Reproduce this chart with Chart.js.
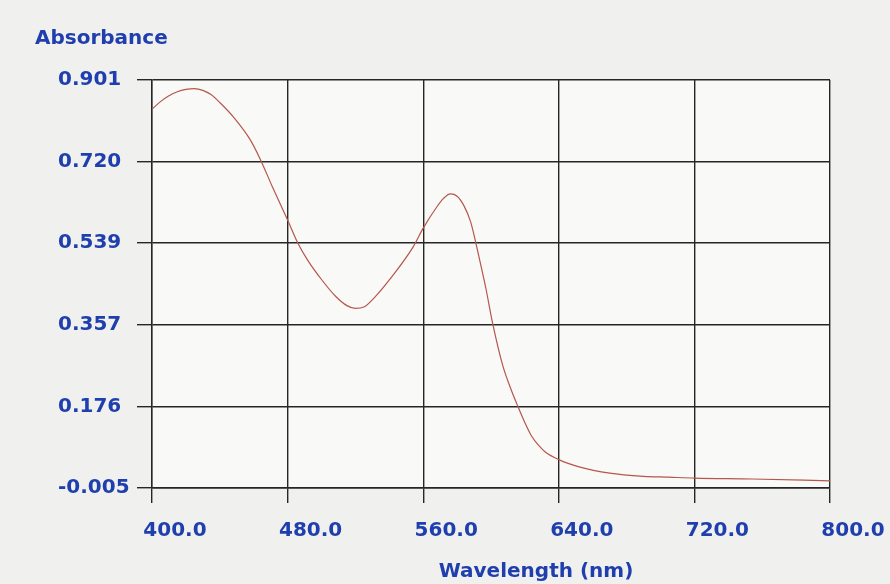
<!DOCTYPE html>
<html>
<head>
<meta charset="utf-8">
<script src="https://cdn.jsdelivr.net/npm/chart.js@4/dist/chart.umd.min.js"></script>
<style>
  html, body { margin: 0; padding: 0; background: #f0f0ee; }
  #wrap { width: 890px; height: 584px; }
</style>
</head>
<body>
<div id="wrap"><canvas id="spectrum" width="890" height="584"></canvas></div>
<script>
// Spectrum values
const wavelength = [400, 405, 410, 415, 420, 425, 430, 435, 440, 448, 458, 464, 471, 480, 486, 492, 500, 508, 515, 520,
    525, 532, 540, 554, 560, 568, 572, 576, 580, 584, 588, 591, 594, 597, 601, 607, 612, 616, 620, 624,
    628, 632, 640, 652, 670, 690, 705, 720, 754, 800];
const absorbance = [0.836, 0.853, 0.866, 0.875, 0.880, 0.882, 0.878, 0.868, 0.851, 0.819, 0.768, 0.724, 0.664, 0.590, 0.539, 0.500, 0.458, 0.422, 0.400, 0.394,
    0.397, 0.421, 0.457, 0.530, 0.572, 0.619, 0.638, 0.648, 0.643, 0.622, 0.586, 0.540, 0.490, 0.438, 0.360, 0.266, 0.212, 0.175, 0.140, 0.110,
    0.090, 0.075, 0.058, 0.042, 0.028, 0.021, 0.019, 0.017, 0.015, 0.011];

const xTicks = [400, 480, 560, 640, 720, 800];
const yTicks = [-0.005, 0.176, 0.357, 0.539, 0.720, 0.901];

const labelBlue = '#1f3fae';
const gridColor = '#262626';
const labelFont = { family: 'DejaVu Sans', size: 20, weight: 'bold' };

// paints the paper colour and the axis titles
const paperPlugin = {
    id: 'paper',
    beforeDraw(chart) {
        const { ctx, chartArea } = chart;
        ctx.save();
        ctx.fillStyle = '#f0f0ee';
        ctx.fillRect(0, 0, chart.width, chart.height);
        ctx.fillStyle = '#f9f9f8';
        ctx.fillRect(chartArea.left, chartArea.top, chartArea.right - chartArea.left, chartArea.bottom - chartArea.top);
        ctx.restore();
    },
    afterDraw(chart) {
        const { ctx } = chart;
        ctx.save();
        ctx.fillStyle = labelBlue;
        ctx.font = 'bold 20px "DejaVu Sans"';
        ctx.textBaseline = 'middle';
        ctx.textAlign = 'left';
        ctx.fillText('Absorbance', 35, 39);
        ctx.textAlign = 'center';
        ctx.fillText('Wavelength (nm)', 536, 572);
        ctx.restore();
    }
};

const points = wavelength.map((w, i) => ({ x: w, y: absorbance[i] }));

new Chart(document.getElementById('spectrum'), {
    type: 'line',
    data: {
        datasets: [{
            data: points,
            borderColor: '#b5574c',
            borderWidth: 1.2,
            pointRadius: 0,
            cubicInterpolationMode: 'monotone',
            fill: false
        }]
    },
    options: {
        responsive: false,
        animation: false,
        layout: { padding: { left: 58, top: 80, right: 60, bottom: 0 } },
        plugins: { legend: { display: false }, tooltip: { enabled: false } },
        scales: {
            x: {
                type: 'linear',
                min: 400,
                max: 800,
                afterBuildTicks: scale => { scale.ticks = xTicks.map(v => ({ value: v })); },
                afterFit: scale => { scale.height = 96; },
                grid: { color: gridColor, lineWidth: 1.4, tickLength: 15 },
                border: { color: gridColor, width: 1.4 },
                ticks: {
                    color: labelBlue,
                    font: labelFont,
                    padding: 16,
                    labelOffset: 23,
                    maxRotation: 0,
                    callback: v => Number(v).toFixed(1)
                }
            },
            y: {
                type: 'linear',
                min: -0.005,
                max: 0.901,
                afterBuildTicks: scale => { scale.ticks = yTicks.map(v => ({ value: v })); },
                afterFit: scale => { scale.width = 94; },
                grid: { color: gridColor, lineWidth: 1.4, tickLength: 15 },
                border: { color: gridColor, width: 1.4 },
                ticks: {
                    color: labelBlue,
                    font: labelFont,
                    crossAlign: 'far',
                    callback: v => Number(v).toFixed(3)
                }
            }
        }
    },
    plugins: [paperPlugin]
});
</script>
</body>
</html>
